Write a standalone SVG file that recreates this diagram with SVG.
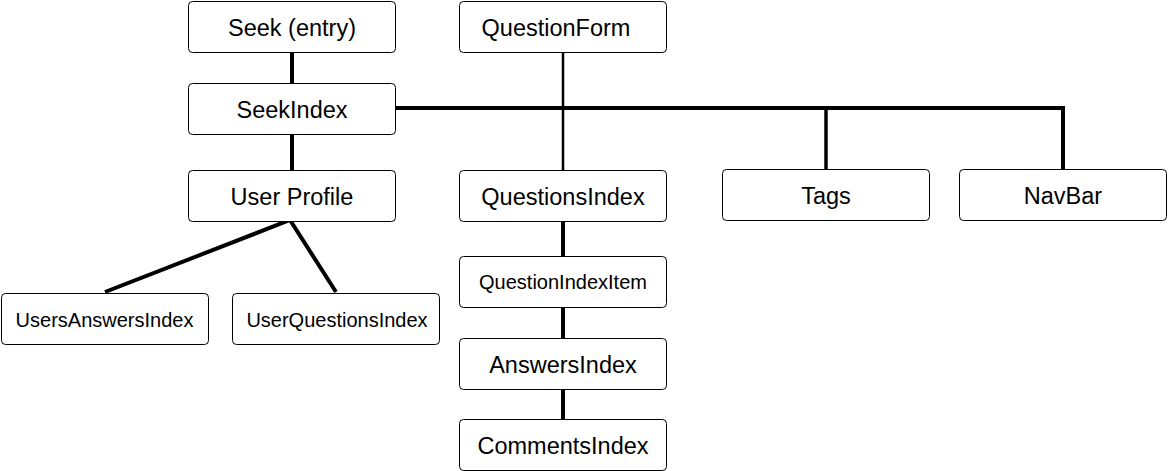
<svg xmlns="http://www.w3.org/2000/svg" width="1168" height="471" viewBox="0 0 1168 471">
<style>
.box{fill:#fff;stroke:#000;stroke-width:1}
.t{font-family:"Liberation Sans",Arial,sans-serif;font-size:23.5px;fill:#000;text-anchor:middle}
.s{font-size:20px}
.c{stroke:#000;fill:none;stroke-linecap:butt;stroke-linejoin:miter}
</style>
<rect width="1168" height="471" fill="#fff"/>
<g id="connectors">
<line class="c" x1="292" y1="52" x2="292" y2="83" stroke-width="4"/>
<line class="c" x1="292" y1="134" x2="292" y2="170" stroke-width="4"/>
<polyline class="c" points="396,108 1063,108 1063,169" stroke-width="4"/>
<line class="c" x1="826" y1="108" x2="826" y2="169" stroke-width="3.5"/>
<line class="c" x1="563" y1="52" x2="563" y2="170" stroke-width="2.5"/>
<line class="c" x1="563" y1="221" x2="563" y2="256" stroke-width="4"/>
<line class="c" x1="563" y1="307" x2="563" y2="338" stroke-width="4"/>
<line class="c" x1="563" y1="389" x2="563" y2="419" stroke-width="4"/>
<polyline class="c" points="105,292 290,220 336,292" stroke-width="4"/>
</g>
<g id="seek-entry"><rect class="box" x="188.5" y="1.5" width="207" height="51" rx="4"/><text class="t" x="292" y="36">Seek (entry)</text></g>
<g id="seek-index"><rect class="box" x="188.5" y="83.5" width="207" height="51" rx="4"/><text class="t" x="292" y="117.5">SeekIndex</text></g>
<g id="user-profile"><rect class="box" x="188.5" y="170.5" width="207" height="51" rx="4"/><text class="t" x="292" y="204.5">User Profile</text></g>
<g id="question-form"><rect class="box" x="459.5" y="1.5" width="207" height="51" rx="4"/><text class="t" x="556" y="36">QuestionForm</text></g>
<g id="questions-index"><rect class="box" x="459.5" y="170.5" width="207" height="51" rx="4"/><text class="t" x="563" y="204.5">QuestionsIndex</text></g>
<g id="tags"><rect class="box" x="722.5" y="169.5" width="207" height="51" rx="4"/><text class="t" x="826" y="203.5">Tags</text></g>
<g id="navbar"><rect class="box" x="959.5" y="169.5" width="207" height="51" rx="4"/><text class="t" x="1063" y="203.5">NavBar</text></g>
<g id="users-answers-index"><rect class="box" x="1.5" y="293.5" width="207" height="51" rx="4"/><text class="t s" x="104.5" y="326.5">UsersAnswersIndex</text></g>
<g id="user-questions-index"><rect class="box" x="232.5" y="293.5" width="207" height="51" rx="4"/><text class="t s" x="337" y="326.5">UserQuestionsIndex</text></g>
<g id="question-index-item"><rect class="box" x="459.5" y="256.5" width="207" height="51" rx="4"/><text class="t s" x="563" y="289">QuestionIndexItem</text></g>
<g id="answers-index"><rect class="box" x="459.5" y="338.5" width="207" height="51" rx="4"/><text class="t" x="563" y="372.5">AnswersIndex</text></g>
<g id="comments-index"><rect class="box" x="459.5" y="419.5" width="207" height="51" rx="4"/><text class="t" x="563" y="453.5">CommentsIndex</text></g>
</svg>
